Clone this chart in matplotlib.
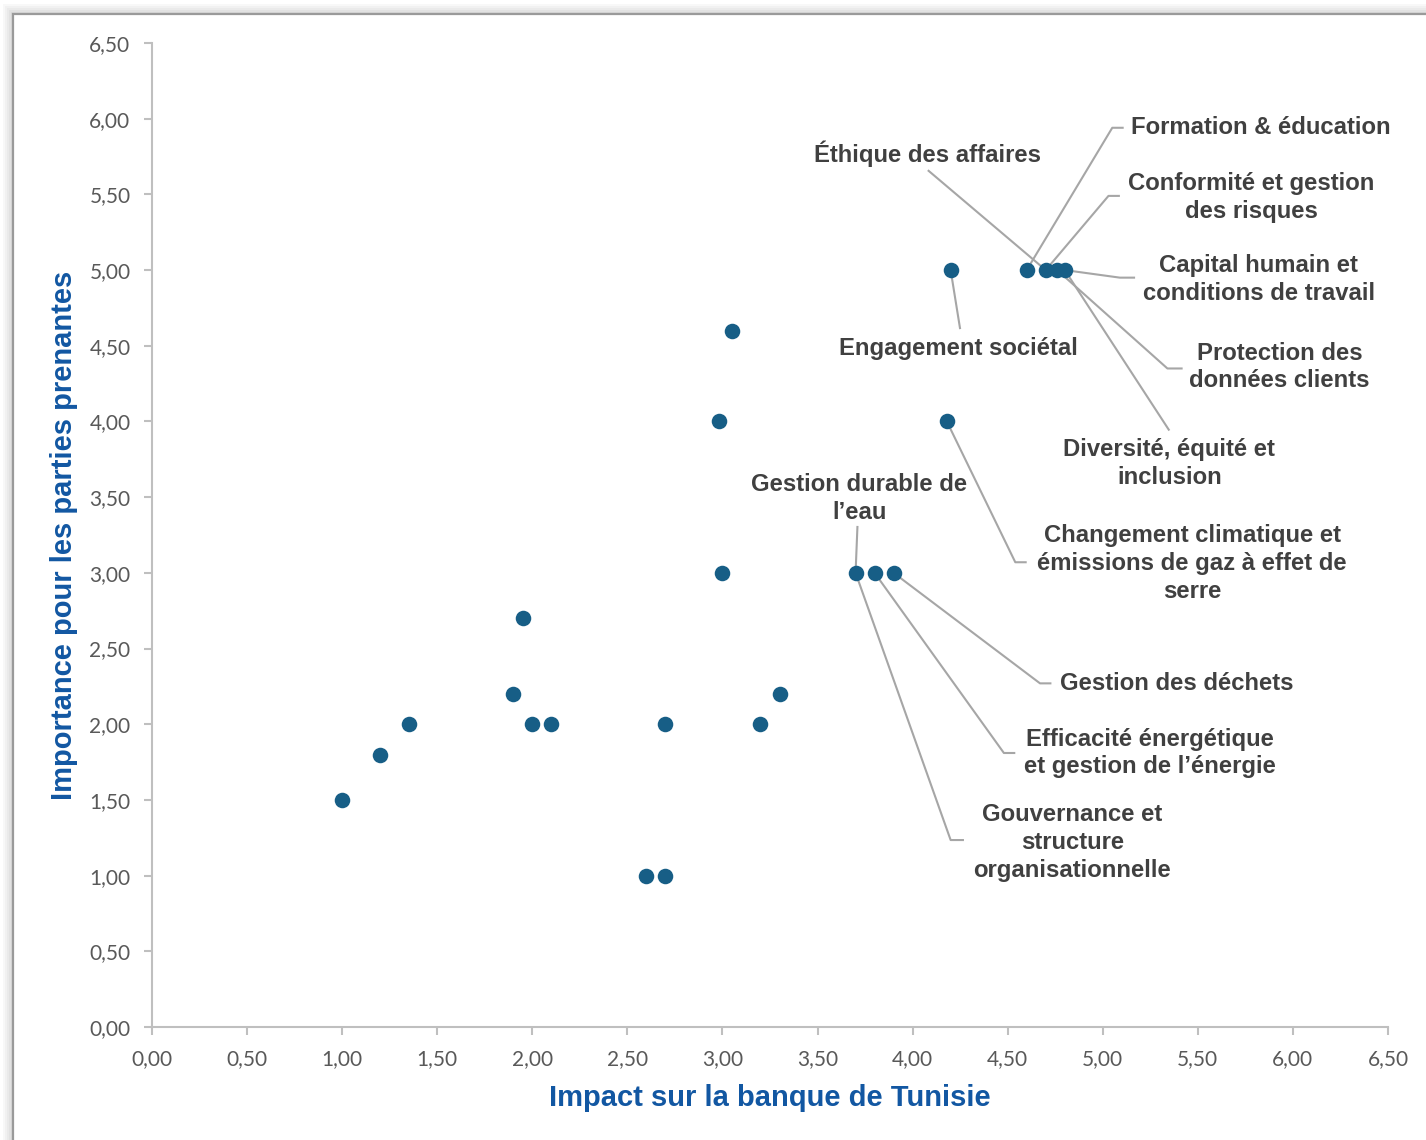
import matplotlib
matplotlib.use("Agg")
import matplotlib.pyplot as plt
from matplotlib.patches import Rectangle
from matplotlib.ticker import MultipleLocator, FuncFormatter

# Materiality matrix: impact on the bank (x) vs stakeholder importance (y)
impact = [1.00, 1.20, 1.35, 1.90, 1.95, 2.00, 2.10, 2.60, 2.70, 2.70,
          2.98, 3.00, 3.05, 3.20, 3.30, 3.70, 3.80, 3.90, 4.18, 4.20,
          4.60, 4.70, 4.76, 4.80]
importance = [1.50, 1.80, 2.00, 2.20, 2.70, 2.00, 2.00, 1.00, 1.00, 2.00,
              4.00, 3.00, 4.60, 2.00, 2.20, 3.00, 3.00, 3.00, 4.00, 5.00,
              5.00, 5.00, 5.00, 5.00]

# Labelled topics: name and index of the point they refer to
topic_names = [
    "Éthique des affaires",
    "Formation & éducation",
    "Conformité et gestion\ndes risques",
    "Capital humain et\nconditions de travail",
    "Protection des\ndonnées clients",
    "Diversité, équité et\ninclusion",
    "Engagement sociétal",
    "Changement climatique et\némissions de gaz à effet de\nserre",
    "Gestion durable de\nl’eau",
    "Gestion des déchets",
    "Efficacité énergétique\net gestion de l’énergie",
    "Gouvernance et\nstructure\norganisationnelle",
]
topic_points = [21, 20, 21, 23, 22, 23, 19, 18, 15, 17, 16, 15]

# label placement: text centre, then leader path (elbow, end near text)
text_pos = [(4.08, 5.77), (5.83, 5.94), (5.78, 5.48), (5.82, 4.94),
            (5.93, 4.36), (5.35, 3.72), (4.24, 4.48), (5.47, 3.06),
            (3.72, 3.49), (5.39, 2.27), (5.25, 1.81), (4.84, 1.22)]
leader_path = [
    [(4.08, 5.66)],
    [(5.05, 5.94), (5.11, 5.94)],
    [(5.03, 5.49), (5.09, 5.49)],
    [(5.09, 4.95), (5.17, 4.95)],
    [(5.34, 4.35), (5.42, 4.35)],
    [(5.35, 3.94)],
    [(4.25, 4.61)],
    [(4.54, 3.07), (4.60, 3.07)],
    [(3.71, 3.31)],
    [(4.67, 2.27), (4.73, 2.27)],
    [(4.48, 1.81), (4.54, 1.81)],
    [(4.20, 1.235), (4.27, 1.235)],
]

marker_color = "#175E86"
text_color = "#404040"
title_color = "#1257A2"
axis_gray = "#BFBFBF"
leader_gray = "#A6A6A6"

fig = plt.figure(figsize=(14.26, 11.4), dpi=100)
fig.patch.set_facecolor("white")

# framed chart area with a soft shadow on the left/top
for i, a in enumerate([0.05, 0.05, 0.06, 0.07, 0.08]):
    off = (5 - i) * 2
    fig.patches.append(Rectangle(((13 - off) / 1426, -0.2), 1.5, 1.2 - (14 - off) / 1140,
                                 transform=fig.transFigure, facecolor="#808080",
                                 alpha=a, edgecolor="none", zorder=0))
fig.patches.append(Rectangle((13 / 1426, -0.2), 1.5, 1.2 - 14 / 1140,
                             transform=fig.transFigure, facecolor="white",
                             edgecolor="#9A9A9A", lw=1.6, zorder=1))

ax = fig.add_axes([152 / 1426, 113 / 1140, 1236 / 1426, 984 / 1140])
ax.set_facecolor("none")
ax.set_zorder(2)

ax.scatter(impact, importance, s=125, color=marker_color, zorder=4, linewidths=0)

for name, idx, (tx, ty), path in zip(topic_names, topic_points, text_pos, leader_path):
    xs = [impact[idx]] + [p[0] for p in path]
    ys = [importance[idx]] + [p[1] for p in path]
    ax.plot(xs, ys, color=leader_gray, lw=1.5, zorder=3, solid_capstyle="butt")
    ax.text(tx, ty, name, ha="center", va="center", fontsize=17.2,
            fontweight="bold", color=text_color, family="Liberation Sans",
            linespacing=1.27, zorder=5)

ax.set_xlim(0, 6.5)
ax.set_ylim(0, 6.5)
ax.xaxis.set_major_locator(MultipleLocator(0.5))
ax.yaxis.set_major_locator(MultipleLocator(0.5))
comma = FuncFormatter(lambda v, _: f"{v:.2f}".replace(".", ","))
ax.xaxis.set_major_formatter(comma)
ax.yaxis.set_major_formatter(comma)

for side in ["top", "right"]:
    ax.spines[side].set_visible(False)
for side in ["left", "bottom"]:
    ax.spines[side].set_color(axis_gray)
    ax.spines[side].set_linewidth(1.5)
ax.tick_params(direction="out", length=6, width=1.5, color=axis_gray,
               labelcolor="#595959", labelsize=15)
ax.tick_params(axis="x", pad=10)
ax.tick_params(axis="y", pad=9.5)
for lab in ax.get_xticklabels() + ax.get_yticklabels():
    lab.set_family("Lato")

ax.set_xlabel("Impact sur la banque de Tunisie", fontsize=21, fontweight="bold",
              color=title_color, family="Liberation Sans")
ax.set_ylabel("Importance pour les parties prenantes", fontsize=21, fontweight="bold",
              color=title_color, family="Liberation Sans")
ax.xaxis.set_label_coords(0.5, -0.058)
ax.yaxis.set_label_coords(-0.060, 0.5)

fig.savefig("out.png", dpi=100, facecolor="white")
